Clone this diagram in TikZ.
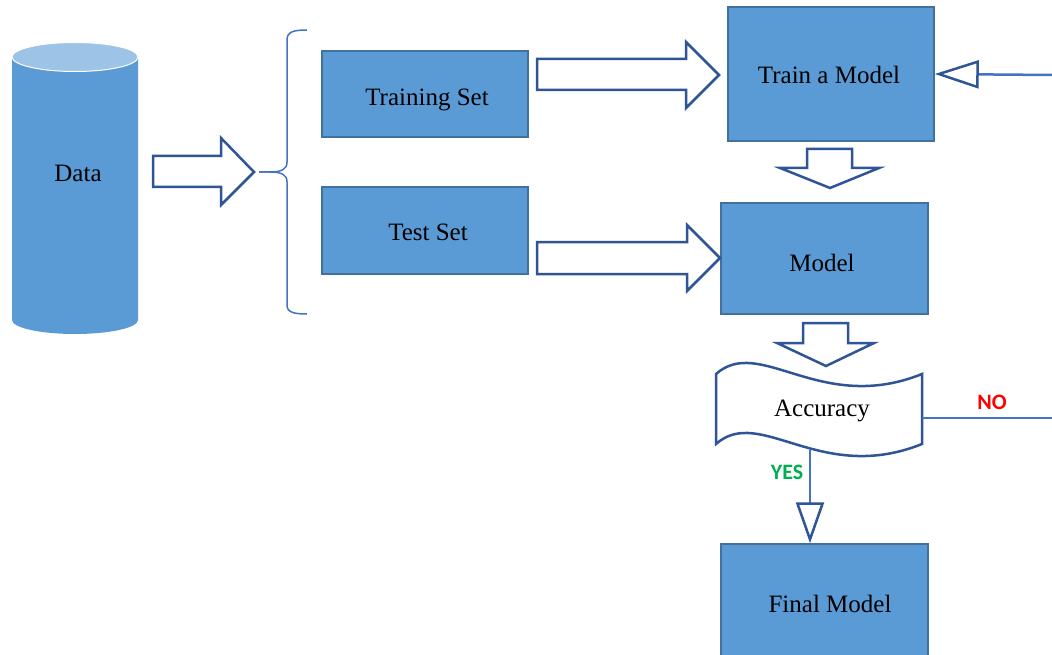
\documentclass[tikz,border=0pt]{standalone}
\usepackage{fontspec}
\setmainfont{Liberation Serif}
\newfontfamily\lblfont{Carlito}
\usetikzlibrary{arrows.meta}
\definecolor{boxfill}{HTML}{5B9BD5}
\definecolor{boxline}{HTML}{41719C}
\definecolor{arrline}{HTML}{2F5597}
\definecolor{conline}{HTML}{4472C4}
\definecolor{cyltop}{HTML}{9DC3E6}
\definecolor{yesgreen}{HTML}{00B050}
\definecolor{nored}{HTML}{FF0000}
\tikzset{
  box/.style={draw=boxline, fill=boxfill, line width=1.5pt, inner sep=0pt,
    font=\fontsize{25}{30}\selectfont},
  txt/.style={font=\fontsize{25}{30}\selectfont, inner sep=0pt},
  blockarr/.style={draw=arrline, fill=white, line width=2.5pt, line join=miter},
  conn/.style={draw=conline, line width=2.5pt},
  lbl/.style={font=\lblfont\bfseries\fontsize{22}{26}\selectfont, inner sep=0pt}
}
\begin{document}
\begin{tikzpicture}[x=1pt,y=-1pt]
\clip (0,0) rectangle (1052,655);
\fill[white] (0,0) rectangle (1052,655);

% Data cylinder
\fill[boxfill] (12,57) -- (12,320) arc[start angle=180, end angle=0, x radius=63, y radius=14] -- (138,57) -- cycle;
\filldraw[fill=cyltop, draw=white, line width=1pt] (75,57) ellipse[x radius=63, y radius=14.5];
\node[txt] (data) at (78,173) {Data};

% arrow data -> brace
\draw[blockarr] (153,156) -- (221,156) -- (221,138) -- (254,172) -- (221,205) -- (221,187) -- (153,187) -- cycle;

% brace
\draw[conline, line width=1.5pt] (307,30) .. controls (293,30) and (287,32) .. (287,40) -- (287,162)
  .. controls (287,169) and (282,172) .. (270,172) -- (259,172);
\draw[conline, line width=1.5pt] (259,172) -- (270,172) .. controls (282,172) and (287,175) .. (287,182)
  -- (287,305) .. controls (287,312) and (293,314) .. (307,314);

% boxes
\node[box, minimum width=206pt, minimum height=86pt] (trs) at (425,94) {};
\node[txt] at (427,99.5) {Training Set};
\node[box, minimum width=206pt, minimum height=87pt] (tes) at (425,230.5) {};
\node[txt] at (428,232) {Test Set};
\node[box, minimum width=206pt, minimum height=134pt] (train) at (831,74) {};
\node[txt] at (829,75) {Train a Model};
\node[box, minimum width=207pt, minimum height=111pt] (model) at (824.5,258.5) {};
\node[txt] at (822,263) {Model};
\node[box, minimum width=207pt, minimum height=122pt] (final) at (824.5,605) {};
\node[txt] at (830,604) {Final Model};

% block arrows
\draw[blockarr] (537,59) -- (686,59) -- (686,42) -- (719,75) -- (686,108) -- (686,90) -- (537,90) -- cycle;
\draw[blockarr] (537,242) -- (687,242) -- (687,225) -- (720,258) -- (687,291) -- (687,274) -- (537,274) -- cycle;
\draw[blockarr] (807,149) -- (852,149) -- (852,168) -- (879,168) -- (830,188) -- (780,168) -- (807,168) -- cycle;
\draw[blockarr] (803,323) -- (848,323) -- (848,343) -- (874,343) -- (826,366) -- (777,343) -- (803,343) -- cycle;

% accuracy tape
\draw[draw=arrline, fill=white, line width=2.5pt]
  (716,374) .. controls (760,335) and (820,415) .. (922,374) -- (922,444)
  .. controls (820,485) and (760,405) .. (716,444) -- cycle;
\node[txt] (acc) at (822,411) {Accuracy};
\coordinate (accE) at (922,418);
\coordinate (accS) at (810,450);
\coordinate (noEnd) at (1052,418);
\coordinate (fbEnd) at (1052,75);

% connectors
\draw[conn] (accE) -- (noEnd);
\draw[conn, -{Triangle[open, length=41pt, width=28pt, fill=white, color=arrline]}] (accS) -- (final.north -| accS);
\draw[conn, -{Triangle[open, length=44pt, width=28pt, fill=white, color=arrline]}] (fbEnd) -- (train.east);

\node[lbl, text=nored] at (992,402) {NO};
\node[lbl, text=yesgreen] at (787,472) {YES};
\end{tikzpicture}
\end{document}
